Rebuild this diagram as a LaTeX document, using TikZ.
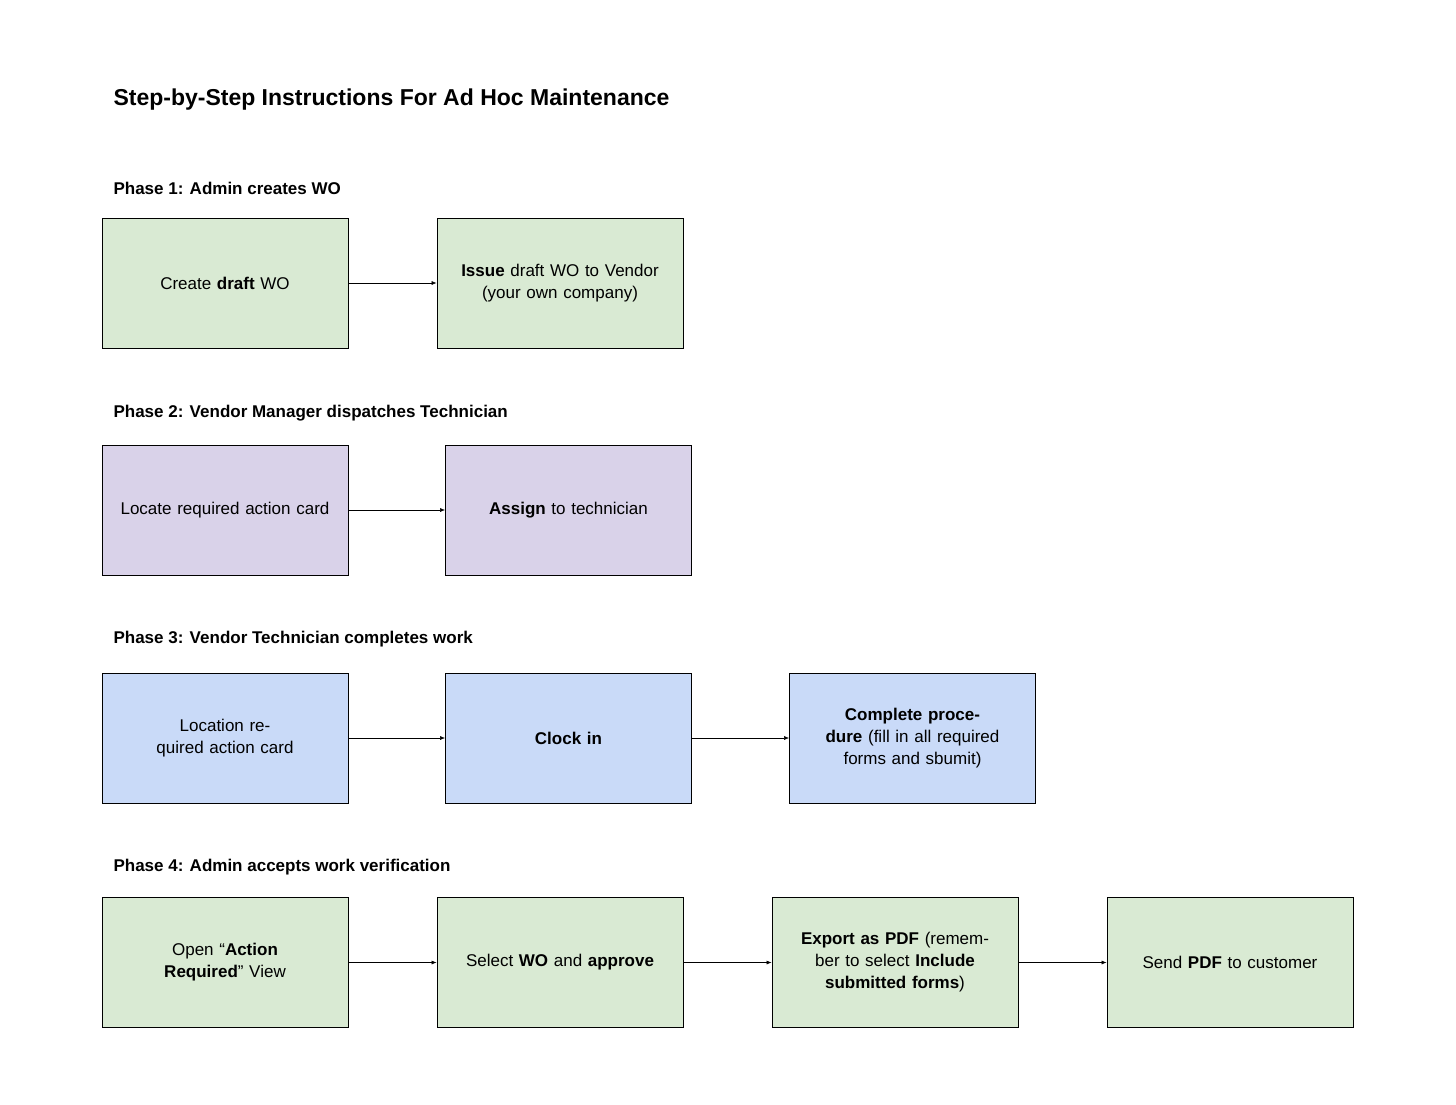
\documentclass[tikz,border=0pt]{standalone}
\usepackage{fontspec}
\setmainfont{Liberation Sans}
\usetikzlibrary{arrows.meta}
\definecolor{gr}{HTML}{D9EAD3}
\definecolor{pu}{HTML}{D9D2E9}
\definecolor{bl}{HTML}{C9DAF8}
\begin{document}
\begin{tikzpicture}[x=1pt,y=-1pt,
  box/.style={draw=black,line width=0.8pt,minimum width=246pt,minimum height=130pt,text width=222pt,align=center,font=\fontsize{17}{22}\selectfont,inner sep=0pt},
  ph/.style={anchor=west,font=\fontsize{17}{20}\selectfont\bfseries},
  conn/.style={-{Latex[length=5pt,width=4pt]},line width=0.6pt}]
\useasboundingbox (0,0) rectangle (1456,1104);
\node[anchor=west,font=\fontsize{23}{26}\selectfont\bfseries] (title) at (110,100) {Step-by-Step Instructions For Ad Hoc Maintenance};
\node[ph] (p1) at (110,188) {Phase 1: Admin creates WO};
\node[ph] (p2) at (110,413) {Phase 2: Vendor Manager dispatches Technician};
\node[ph] (p3) at (110,639) {Phase 3: Vendor Technician completes work};
\node[ph] (p4) at (110,867) {Phase 4: Admin accepts work verification};

\node[box,fill=gr] (a1) at (225,283) {Create \textbf{draft} WO};
\node[box,fill=gr] (a2) at (560,283) {\textbf{Issue} draft WO to Vendor (your own company)};
\draw[conn] (a1) -- (a2);

\node[box,fill=pu] (b1) at (225,510) {Locate required action card};
\node[box,fill=pu] (b2) at (568.5,510) {\textbf{Assign} to technician};
\draw[conn] (b1) -- (b2);

\node[box,fill=bl] (c1) at (225,738) {Location required action card};
\node[box,fill=bl] (c2) at (568.5,738) {\textbf{Clock in}};
\node[box,fill=bl] (c3) at (912.5,738) {\textbf{Complete procedure} (fill in all required forms and sbumit)};
\draw[conn] (c1) -- (c2);
\draw[conn] (c2) -- (c3);

\node[box,fill=gr] (d1) at (225,962.5) {Open “\textbf{Action Required}” View};
\node[box,fill=gr] (d2) at (560,962.5) {Select \textbf{WO} and \textbf{approve}};
\node[box,fill=gr] (d3) at (895,962.5) {\textbf{Export as PDF} (remember to select \textbf{Include submitted forms})};
\node[box,fill=gr] (d4) at (1230,962.5) {Send \textbf{PDF} to customer};
\draw[conn] (d1) -- (d2);
\draw[conn] (d2) -- (d3);
\draw[conn] (d3) -- (d4);
\end{tikzpicture}
\end{document}
